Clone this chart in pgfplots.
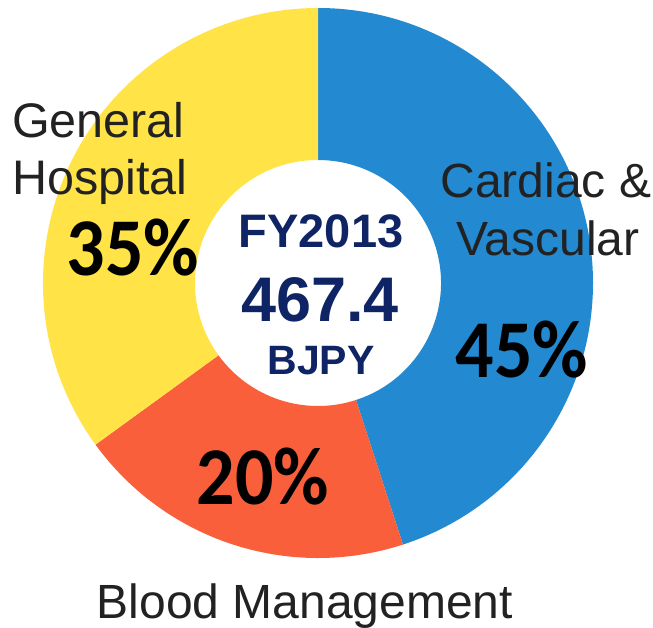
\documentclass[border=0pt]{standalone}
\usepackage{graphicx}
\usepackage{fontspec}
\setmainfont{Liberation Sans}
\newfontfamily\calibri{Carlito}
\usepackage{pgfplots}
\usepackage{pgfplotstable}
\pgfplotsset{compat=1.18}
\definecolor{cblue}{HTML}{2389D1}
\definecolor{corange}{HTML}{FA5F3B}
\definecolor{cyellow}{HTML}{FFE347}
\definecolor{cnavy}{HTML}{0F2464}
\definecolor{cgray}{HTML}{222222}
\pgfplotstableread{
seg pct
Cardiac 45
Blood 20
General 35
}\sharetable
\begin{document}
\begin{tikzpicture}
\begin{axis}[x=1pt, y=1pt, xmin=0, xmax=653, ymin=0, ymax=627,
  hide axis, clip=false, scale only axis]
\pgfplotstablegetelem{0}{pct}\of\sharetable \let\pA\pgfplotsretval
\pgfplotstablegetelem{1}{pct}\of\sharetable \let\pB\pgfplotsretval
\pgfplotstablegetelem{2}{pct}\of\sharetable \let\pC\pgfplotsretval
\pgfmathsetmacro{\aA}{90}
\pgfmathsetmacro{\aB}{90-3.6*\pA}
\pgfmathsetmacro{\aC}{\aB-3.6*\pB}
\pgfmathsetmacro{\aD}{\aC-3.6*\pC}
\def\R{275pt}\def\r{123pt}
\fill[cblue, shift={(axis cs:318,344)}] (\aA:\R) arc[start angle=\aA, end angle=\aB, radius=\R] -- (\aB:\r) arc[start angle=\aB, end angle=\aA, radius=\r] -- cycle;
\fill[corange, shift={(axis cs:318,344)}] (\aB:\R) arc[start angle=\aB, end angle=\aC, radius=\R] -- (\aC:\r) arc[start angle=\aC, end angle=\aB, radius=\r] -- cycle;
\fill[cyellow, shift={(axis cs:318,344)}] (\aC:\R) arc[start angle=\aC, end angle=\aD, radius=\R] -- (\aD:\r) arc[start angle=\aD, end angle=\aC, radius=\r] -- cycle;
% labels
\node[anchor=base west, inner sep=0, text=cgray, font=\fontsize{48.5}{50}\selectfont] at (axis cs:12,489) {General};
\node[anchor=base west, inner sep=0, text=cgray, font=\fontsize{48.5}{50}\selectfont] at (axis cs:12,432) {Hospital};
\node[anchor=base, inner sep=0, text=cgray, font=\fontsize{48}{50}\selectfont] at (axis cs:546,429) {Cardiac \&};
\node[anchor=base, inner sep=0, text=cgray, font=\fontsize{48}{50}\selectfont] at (axis cs:548,371) {Vascular};
\node[anchor=base, inner sep=0, text=cgray, font=\fontsize{48}{50}\selectfont] at (axis cs:305,9) {Blood Management};
% percentages
\node[anchor=base, inner sep=0, font=\calibri\bfseries\fontsize{76}{80}\selectfont] at (axis cs:133,351) {\scalebox{1}[1.08]{\pC\%}};
\node[anchor=base, inner sep=0, font=\calibri\bfseries\fontsize{76}{80}\selectfont] at (axis cs:522,249) {\scalebox{1}[1.08]{\pA\%}};
\node[anchor=base, inner sep=0, font=\calibri\bfseries\fontsize{76}{80}\selectfont] at (axis cs:263,122) {\scalebox{1}[1.08]{\pB\%}};
% centre
\node[anchor=base, inner sep=0, text=cnavy, font=\bfseries\fontsize{47}{50}\selectfont] at (axis cs:321,379) {FY2013};
\node[anchor=base, inner sep=0, text=cnavy, font=\bfseries\fontsize{63}{66}\selectfont] at (axis cs:320,305) {467.4};
\node[anchor=base, inner sep=0, text=cnavy, font=\bfseries\fontsize{41}{44}\selectfont] at (axis cs:321,252) {BJPY};
\end{axis}
\pgfresetboundingbox
\useasboundingbox (current axis.south west) rectangle (current axis.north east);
\end{tikzpicture}
\end{document}
